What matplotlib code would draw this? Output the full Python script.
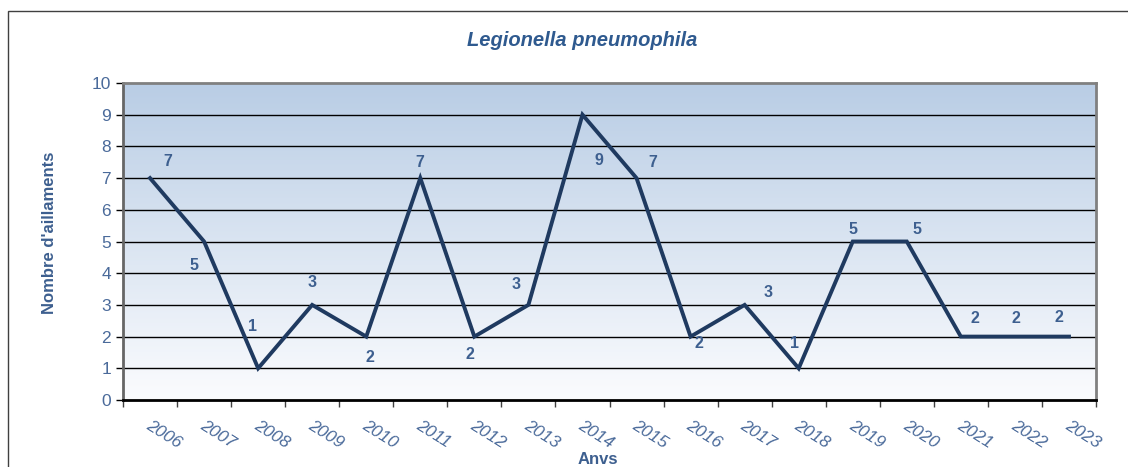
import numpy as np
import matplotlib.pyplot as plt
from matplotlib.patches import Rectangle

plt.rcParams['font.family'] = ['Liberation Sans', 'DejaVu Sans']

# data
years = ['2006', '2007', '2008', '2009', '2010', '2011', '2012', '2013', '2014',
         '2015', '2016', '2017', '2018', '2019', '2020', '2021', '2022', '2023']
counts = [7, 5, 1, 3, 2, 7, 2, 3, 9, 7, 2, 3, 1, 5, 5, 2, 2, 2]
# label offsets in points (dx, dy), mimicking the Excel placement
lab_dx = [13, -7, -4, 0, 3, 0, -3, -9, 12, 12, 6, 17, -3, 0, 7, 10, 1, -7]
lab_dy = [12, -17, 30, 16, -15, 11, -13, 15, -33, 11, -5, 9, 18, 9, 9, 13, 13, 14]

txt_col = '#4a6a9a'
lab_col = '#3d5f8f'
line_col = '#1f3a60'

fig = plt.figure(figsize=(11.28, 4.67), dpi=100)
fig.patches.append(Rectangle((8/1128, -0.01), 1.2, 1 - 11/467 + 0.01,
                             transform=fig.transFigure, fill=False,
                             edgecolor='#404040', linewidth=1))

ax = fig.add_axes([123/1128, 1 - 400/467, (1096 - 123)/1128, (400 - 83)/467])
n = len(years)
x = np.arange(n)
ax.set_xlim(-0.5, n - 0.5)
ax.set_ylim(0, 10)

# gradient background
grad = np.linspace(0, 1, 256).reshape(-1, 1)
top = np.array([0xb9, 0xcd, 0xe5]) / 255
bot = np.array([0xfb, 0xfc, 0xfe]) / 255
img = top * (1 - grad[:, :, None]) + bot * grad[:, :, None]
ax.imshow(img, extent=(-0.5, n - 0.5, 0, 10), aspect='auto', zorder=0)

for yv in range(1, 10):
    ax.axhline(yv, color='black', linewidth=1, zorder=1)

ax.plot(x, counts, color=line_col, linewidth=2.8, solid_joinstyle='miter', zorder=3)

for i in range(n):
    ax.annotate(str(counts[i]), (x[i], counts[i]), xytext=(lab_dx[i], lab_dy[i]),
                textcoords='offset points', ha='center', va='center',
                fontsize=11.5, fontweight='bold', color=lab_col, zorder=4)

ax.set_yticks(range(0, 11))
ax.tick_params(axis='y', colors='black', labelcolor=txt_col, labelsize=12.5,
               length=5, width=1, direction='out')
ax.set_xticks(np.arange(-0.5, n, 1))
ax.set_xticklabels([])
ax.tick_params(axis='x', length=5, width=1, direction='out', colors='#404040')
for i in range(n):
    ax.text(x[i] - 0.05, -0.75, years[i], rotation=-32, rotation_mode='anchor',
            ha='left', va='center', fontsize=12.5, style='italic', color=txt_col)

for s in ['top', 'right']:
    ax.spines[s].set_color('#808080')
    ax.spines[s].set_linewidth(2)
ax.spines['left'].set_color('#666666')
ax.spines['left'].set_linewidth(2)
ax.spines['bottom'].set_color('black')
ax.spines['bottom'].set_linewidth(2)

fig.text(582/1128, 1 - 41/467, 'Legionella pneumophila', ha='center', va='center',
         fontsize=14.5, style='italic', fontweight='bold', color='#2f5a8f')
fig.text(50/1128, 1 - 233/467, "Nombre d'aillaments", rotation=90, ha='center',
         va='center', fontsize=12, fontweight='bold', color=lab_col)
fig.text(598/1128, 1 - 460/467, 'Anvs', ha='center', va='center',
         fontsize=12, fontweight='bold', color=lab_col)

fig.savefig('out.png', dpi=100)
